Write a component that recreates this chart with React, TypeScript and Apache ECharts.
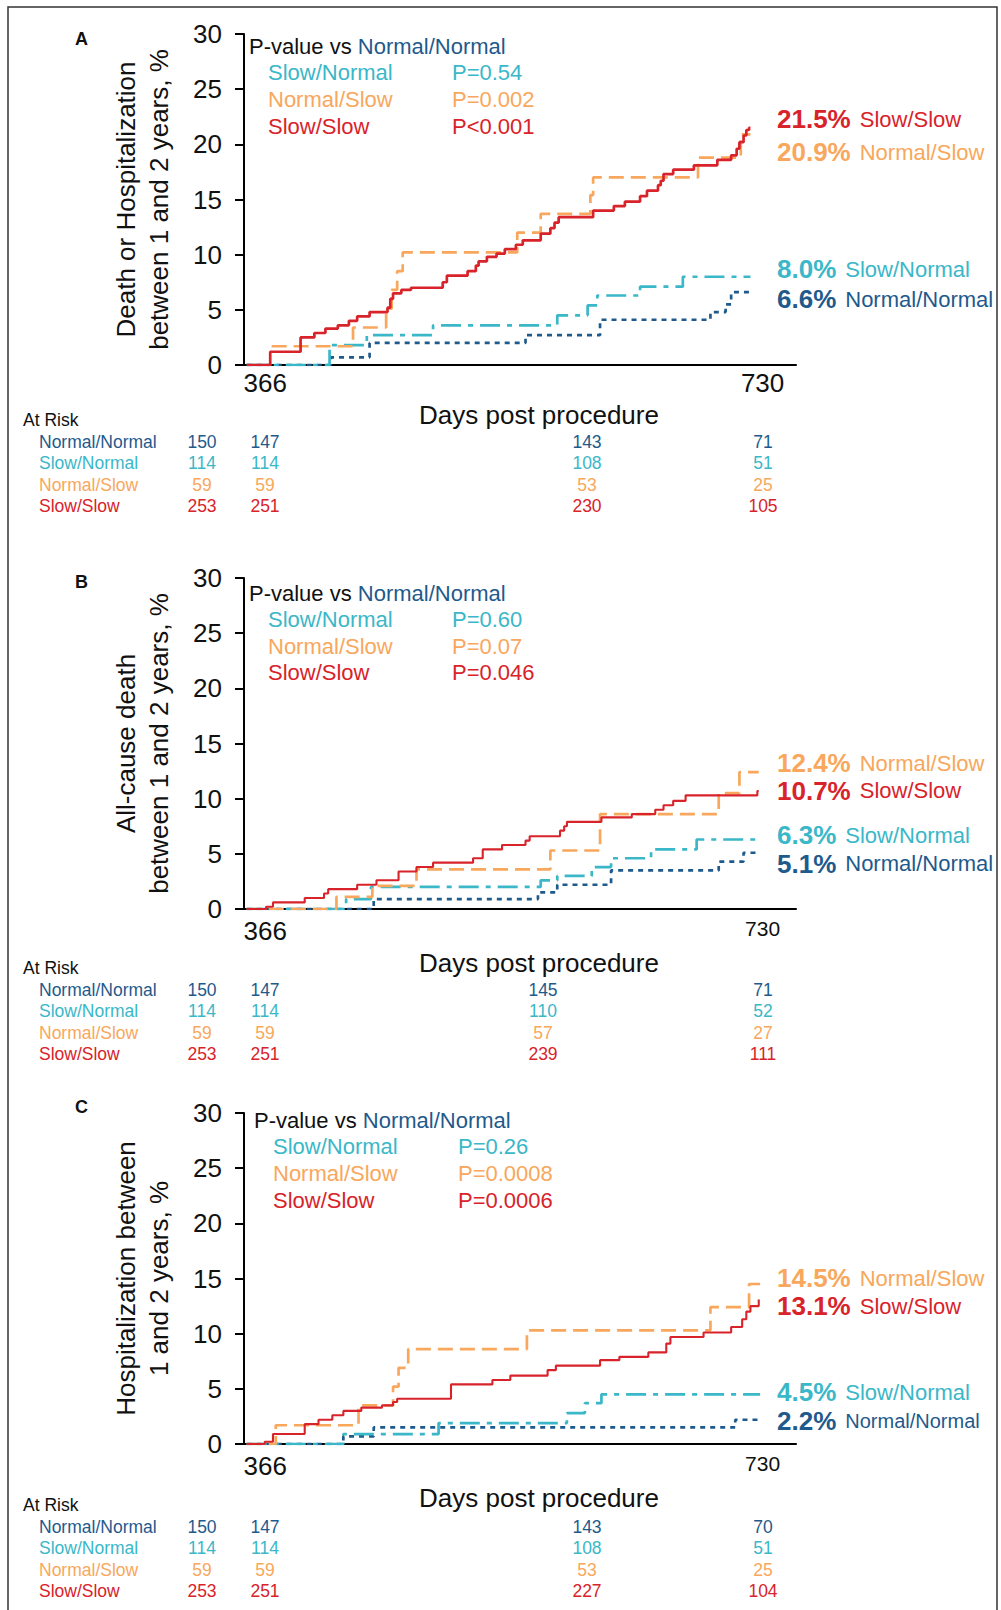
import React, { useEffect, useRef } from "react";
import * as echarts from "echarts";

const FONT = "'Liberation Sans', Arial, Helvetica, sans-serif";

const COL_NN = "#1f5a8c";
const COL_SN = "#3ab7c8";
const COL_NS = "#f8a75c";
const COL_SS = "#d8232a";

const groupNames = ["Normal/Normal", "Slow/Normal", "Normal/Slow", "Slow/Slow"];
const groupColors = [COL_NN, COL_SN, COL_NS, COL_SS];

const xTickLabels = [366, 730];
const panelLetters = ["A", "B", "C"];
const panelTitles = [
  "Death or Hospitalization\nbetween 1 and 2 years, %",
  "All-cause death\nbetween 1 and 2 years, %",
  "Hospitalization between\n1 and 2 years, %",
];
const xAxisTitle = "Days post procedure";

// ---------- Panel A: death or hospitalization ----------
const aNN = [[366, 0], [427, 0.7], [455, 2.0], [568, 2.7], [622, 4.1], [702, 4.8], [713, 5.5], [717, 6.6], [731, 6.6]];
const aSN = [[366, 0], [426, 1.8], [453, 2.7], [501, 3.6], [591, 4.5], [613, 5.4], [620, 6.3], [651, 7.1], [682, 8.0], [731, 8.0]];
const aNS = [[384, 1.7], [443, 3.4], [467, 5.1], [471, 6.8], [475, 8.5], [479, 10.2], [562, 12.0], [579, 13.7], [615, 15.4], [617, 17.0], [693, 18.8], [724, 20.9], [731, 20.9]];
const aSS = [[366, 0], [383, 1.2], [405, 2.5], [415, 2.9], [423, 3.3], [432, 3.6], [440, 4.0], [446, 4.4], [455, 4.8], [468, 5.2], [470, 6.0], [472, 6.5], [478, 6.8], [485, 7.0], [508, 7.5], [511, 8.1], [526, 8.5], [532, 9.0], [534, 9.4], [540, 9.8], [547, 10.1], [553, 10.5], [561, 10.9], [566, 11.3], [579, 11.9], [586, 12.4], [589, 12.9], [592, 13.4], [617, 14.0], [632, 14.4], [640, 14.8], [651, 15.3], [656, 15.8], [664, 16.3], [666, 16.7], [668, 17.3], [675, 17.7], [690, 18.1], [707, 18.6], [717, 19.0], [721, 19.6], [723, 20.2], [726, 20.8], [728, 21.3], [730, 21.5], [731, 21.5]];
const pA = ["P=0.54", "P=0.002", "P<0.001"];
const endA = [6.6, 8.0, 20.9, 21.5];
const riskA = [[150, 147, 143, 71], [114, 114, 108, 51], [59, 59, 53, 25], [253, 251, 230, 105]];

// ---------- Panel B: all-cause death ----------
const bNN = [[366, 0], [458, 0.9], [577, 1.5], [591, 2.2], [630, 3.5], [708, 4.3], [726, 5.1], [737, 5.1]];
const bSN = [[366, 0], [438, 0.9], [456, 2.0], [579, 2.6], [591, 3.0], [616, 3.8], [630, 4.6], [659, 5.4], [692, 6.3], [737, 6.3]];
const bNS = [[366, 0], [431, 1.1], [457, 2.1], [489, 3.6], [586, 5.3], [622, 8.6], [708, 10.5], [723, 12.4], [737, 12.4]];
const bSS = [[366, 0], [380, 0.2], [385, 0.6], [408, 1.0], [422, 1.4], [425, 1.8], [446, 2.2], [460, 2.6], [476, 3.4], [489, 3.8], [501, 4.2], [530, 4.6], [537, 5.4], [551, 5.8], [568, 6.2], [571, 6.6], [593, 7.1], [596, 7.5], [598, 7.9], [623, 8.3], [645, 8.6], [662, 9.0], [668, 9.4], [675, 9.8], [684, 10.3], [736, 10.7], [737, 10.7]];
const pB = ["P=0.60", "P=0.07", "P=0.046"];
const endB = [5.1, 6.3, 12.4, 10.7];
const riskB = [[150, 147, 145, 71], [114, 114, 110, 52], [59, 59, 57, 27], [253, 251, 239, 111]];

// ---------- Panel C: hospitalization ----------
const cNN = [[366, 0], [436, 0.7], [458, 1.5], [720, 2.2], [738, 2.2]];
const cSN = [[366, 0], [436, 0.9], [505, 1.9], [598, 2.8], [611, 3.7], [623, 4.5], [738, 4.5]];
const cNS = [[366, 0], [387, 1.7], [447, 3.5], [472, 5.2], [476, 6.9], [483, 8.6], [569, 10.3], [702, 12.4], [730, 14.5], [738, 14.5]];
const cSS = [[366, 0], [379, 0.2], [385, 0.9], [408, 1.8], [418, 2.2], [428, 2.6], [436, 3.0], [449, 3.3], [464, 3.5], [472, 3.8], [475, 4.1], [514, 5.4], [544, 5.8], [557, 6.2], [584, 6.7], [590, 7.1], [622, 7.6], [636, 7.9], [657, 8.3], [670, 9.1], [673, 9.7], [697, 10.1], [717, 10.6], [725, 11.3], [728, 12.0], [731, 12.5], [737, 13.1]];
const pC = ["P=0.26", "P=0.0008", "P=0.0006"];
const endC = [2.2, 4.5, 14.5, 13.1];
const riskC = [[150, 147, 143, 70], [114, 114, 108, 51], [59, 59, 53, 25], [253, 251, 227, 104]];

const curves = [
  [aNN, aSN, aNS, aSS],
  [bNN, bSN, bNS, bSS],
  [cNN, cSN, cNS, cSS],
];
const pValues = [pA, pB, pC];
const endValues = [endA, endB, endC];
const risks = [riskA, riskB, riskC];

// ---------- layout (positions only) ----------
const GRID_LEFT = 244;
const GRID_W = 552;
const GRID_H = 331;
const LAYOUT = [
  { top: 34, letterY: 39, legX: 249, legY: 46, rowX: 268, pX: 452, rowDy: 26.7, endY: [299, 269, 152, 119], nnSize: 22, xLabMargin: 5, xNameGap: 37, riskY: 420, col3: 587, redW: 2.7, endSize: 26 },
  { top: 578, letterY: 582, legX: 249, legY: 593, rowX: 268, pX: 452, rowDy: 26.5, endY: [863.5, 835, 763, 790.5], nnSize: 22, xLabMargin: 9, xNameGap: 41, riskY: 968, col3: 543, redW: 2.1, endSize: 21 },
  { top: 1113, letterY: 1107, legX: 254, legY: 1120, rowX: 273, pX: 458, rowDy: 26.7, endY: [1421, 1392, 1278, 1306], nnSize: 20, xLabMargin: 9, xNameGap: 41, riskY: 1505, col3: 587, redW: 2.1, endSize: 21 },
];
const dashes: any[] = [[5, 5], [20, 7, 5, 7], [15, 7], "solid"];

function text(x: number, y: number, t: string, o: any = {}) {
  return {
    type: "text",
    x,
    y,
    silent: true,
    style: {
      text: t,
      fill: o.fill || "#111",
      fontSize: o.fontSize || 22,
      fontWeight: o.fontWeight || "normal",
      fontFamily: FONT,
      align: o.align || "left",
      verticalAlign: "middle",
      rich: o.rich,
    },
  };
}

function buildOption() {
  const grid: any[] = [];
  const xAxis: any[] = [];
  const yAxis: any[] = [];
  const series: any[] = [];
  const graphic: any[] = [];

  graphic.push({
    type: "rect",
    silent: true,
    shape: { x: 8, y: 7, width: 989, height: 1700 },
    style: { fill: "none", stroke: "#333", lineWidth: 1.5 },
  });

  LAYOUT.forEach((L, i) => {
    grid.push({ left: GRID_LEFT, top: L.top, width: GRID_W, height: GRID_H, containLabel: false });
    xAxis.push({
      gridIndex: i,
      type: "value",
      min: 364,
      max: 764,
      name: xAxisTitle,
      nameLocation: "middle",
      nameGap: L.xNameGap,
      nameTextStyle: { fontSize: 26, fontFamily: FONT, color: "#111", padding: [0, 0, 0, 38] },
      axisLine: { show: true, onZero: false, lineStyle: { color: "#000", width: 2.2 } },
      axisTick: { show: false },
      splitLine: { show: false },
      axisLabel: {
        customValues: xTickLabels,
        align: "center",
        margin: L.xLabMargin,
        fontSize: 26,
        fontFamily: FONT,
        color: "#111",
        formatter: (v: number) => (v === 730 ? `{e|${v}}` : `{s|${v}}`),
        rich: {
          s: { fontSize: 26, fontFamily: FONT, color: "#111", padding: [0, 0, 0, 37] },
          e: { fontSize: L.endSize, fontFamily: FONT, color: "#111", padding: [0, 0, 0, 27] },
        },
      },
    });
    yAxis.push({
      gridIndex: i,
      type: "value",
      min: 0,
      max: 30,
      interval: 5,
      name: panelTitles[i],
      nameLocation: "middle",
      nameRotate: 90,
      nameGap: 69,
      nameTextStyle: { fontSize: 26, lineHeight: 33, fontFamily: FONT, color: "#111" },
      axisLine: { show: true, lineStyle: { color: "#000", width: 2 } },
      axisTick: { show: true, length: 9, lineStyle: { color: "#000", width: 2 } },
      axisLabel: { fontSize: 26, margin: 22, color: "#111", fontFamily: FONT },
      splitLine: { show: false },
    });

    curves[i].forEach((data, g) => {
      series.push({
        name: `${groupNames[g]} ${panelLetters[i]}`,
        type: "line",
        step: "end",
        xAxisIndex: i,
        yAxisIndex: i,
        data,
        symbol: "none",
        showSymbol: false,
        silent: true,
        z: 2 + g,
        lineStyle: {
          color: groupColors[g],
          width: g === 3 ? L.redW : 2.7,
          type: dashes[g],
          cap: "butt",
        },
      });
    });

    // panel letter
    graphic.push(text(75, L.letterY, panelLetters[i], { fontSize: 18, fontWeight: "bold" }));

    // p-value legend
    graphic.push(
      text(L.legX, L.legY, "{k|P-value vs }{b|Normal/Normal}", {
        rich: {
          k: { fontSize: 22, fontFamily: FONT, fill: "#111" },
          b: { fontSize: 22, fontFamily: FONT, fill: COL_NN },
        },
      })
    );
    [1, 2, 3].forEach((g, r) => {
      const y = L.legY + L.rowDy * (r + 1);
      graphic.push(text(L.rowX, y, groupNames[g], { fill: groupColors[g], fontSize: 22 }));
      graphic.push(text(L.pX, y, pValues[i][r], { fill: groupColors[g], fontSize: 22 }));
    });

    // end-of-curve labels
    [0, 1, 2, 3].forEach((g) => {
      const c = groupColors[g];
      graphic.push(
        text(777, L.endY[g], `{p|${endValues[i][g].toFixed(1)}%}{n|${groupNames[g]}}`, {
          rich: {
            p: { fontSize: 26, fontWeight: "bold", fontFamily: FONT, fill: c },
            n: { fontSize: g === 0 ? L.nnSize : 22, fontFamily: FONT, fill: c, padding: [0, 0, 0, 9] },
          },
        })
      );
    });

    // at-risk table
    graphic.push(text(23, L.riskY, "At Risk", { fontSize: 17.5 }));
    const cols = [202, 265, L.col3, 763];
    risks[i].forEach((row, g) => {
      const y = L.riskY + 21.5 * (g + 1);
      graphic.push(text(39, y, groupNames[g], { fill: groupColors[g], fontSize: 17.5 }));
      row.forEach((n, k) => {
        graphic.push(text(cols[k], y, String(n), { fill: groupColors[g], fontSize: 17.5, align: "center" }));
      });
    });
  });

  return {
    animation: false,
    backgroundColor: "#fff",
    textStyle: { fontFamily: FONT },
    grid,
    xAxis,
    yAxis,
    series,
    graphic,
  };
}

export default function App() {
  const ref = useRef<HTMLDivElement>(null);
  useEffect(() => {
    if (!ref.current) return;
    const chart = echarts.init(ref.current, null, { renderer: "svg" });
    chart.setOption(buildOption() as any);
    return () => chart.dispose();
  }, []);
  return (
    <div
      ref={ref}
      style={{ position: "absolute", left: 0, top: 0, width: 1001, height: 1610, background: "#fff" }}
    />
  );
}
